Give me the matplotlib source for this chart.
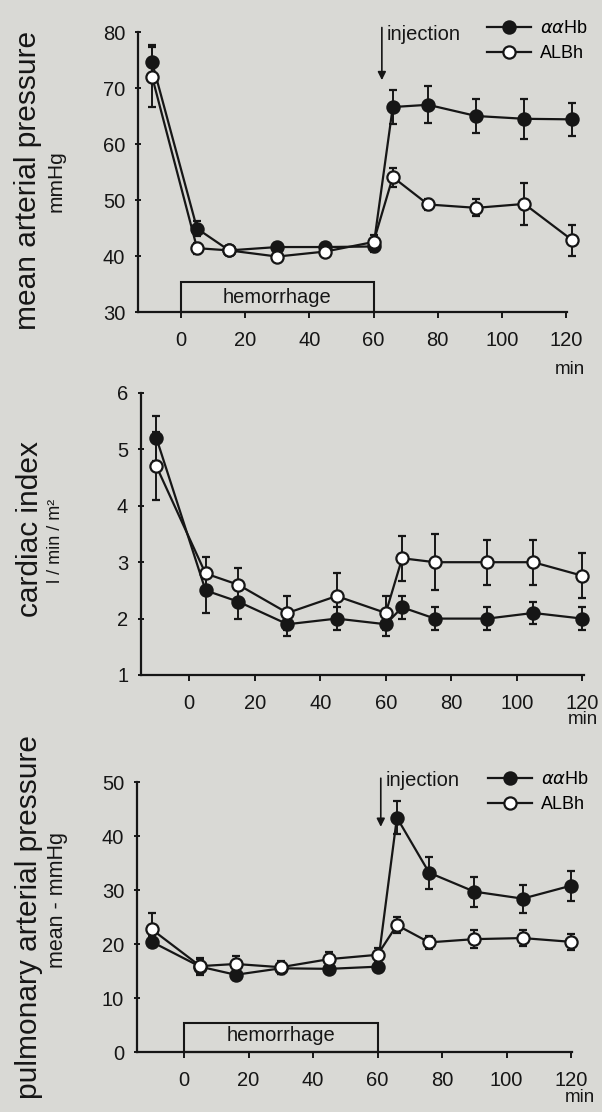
import matplotlib
matplotlib.use("Agg")
import matplotlib.pyplot as plt
from matplotlib.patches import Rectangle
from matplotlib.lines import Line2D

plt.rcParams['font.family'] = ['Liberation Sans', 'DejaVu Sans']

# --- data ---
# mean arterial pressure (mmHg)
t_map = [-9, 5, 15, 30, 45, 60, 66, 77, 92, 107, 122]
map_hb = [74.6, 44.9, 41.0, 41.6, 41.6, 41.7, 66.6, 67.0, 65.0, 64.5, 64.4]
map_hb_err = [3.0, 1.3, 0.6, 0.8, 0.7, 0.9, 3.0, 3.3, 3.0, 3.6, 3.0]
map_alb = [72.0, 41.4, 41.0, 39.9, 40.8, 42.5, 54.1, 49.2, 48.6, 49.3, 42.8]
map_alb_err = [5.4, 1.0, 0.6, 0.8, 0.8, 1.2, 1.7, 1.0, 1.5, 3.8, 2.8]

# cardiac index (l/min/m2)
t_ci = [-10, 5, 15, 30, 45, 60, 65, 75, 91, 105, 120]
ci_hb = [5.2, 2.5, 2.3, 1.9, 2.0, 1.9, 2.2, 2.0, 2.0, 2.1, 2.0]
ci_hb_err = [0.4, 0.4, 0.3, 0.2, 0.2, 0.2, 0.2, 0.2, 0.2, 0.2, 0.2]
ci_alb = [4.7, 2.8, 2.6, 2.1, 2.4, 2.1, 3.07, 3.0, 3.0, 3.0, 2.76]
ci_alb_err = [0.6, 0.3, 0.3, 0.3, 0.4, 0.3, 0.4, 0.5, 0.4, 0.4, 0.4]

# pulmonary arterial pressure (mmHg)
t_pap = [-10, 5, 16, 30, 45, 60, 66, 76, 90, 105, 120]
pap_hb = [20.4, 15.8, 14.3, 15.5, 15.4, 15.8, 43.4, 33.2, 29.7, 28.4, 30.8]
pap_hb_err = [1.0, 1.5, 1.0, 1.0, 0.7, 0.8, 3.0, 3.0, 2.8, 2.6, 2.8]
pap_alb = [22.7, 15.9, 16.3, 15.7, 17.2, 18.0, 23.5, 20.3, 20.9, 21.1, 20.4]
pap_alb_err = [3.0, 1.5, 1.5, 1.2, 1.3, 1.2, 1.5, 1.2, 1.7, 1.5, 1.5]

ticks_x = [0, 20, 40, 60, 80, 100, 120]
ink = '#161616'
bg = '#d9d9d5'

fig = plt.figure(figsize=(6.02, 11.12), dpi=100, facecolor=bg)


def make_axes(rect, xlim, ylim, yticks):
    ax = fig.add_axes(rect)
    ax.set_facecolor('none')
    ax.set_xlim(*xlim)
    ax.set_ylim(*ylim)
    ax.set_xticks(ticks_x)
    ax.set_yticks(yticks)
    for s in ['top', 'right']:
        ax.spines[s].set_visible(False)
    for s in ['left', 'bottom']:
        ax.spines[s].set_linewidth(1.6)
        ax.spines[s].set_color(ink)
    ax.tick_params(axis='x', direction='out', length=4.5, width=1.4,
                   pad=9, labelsize=14.5, colors=ink)
    ax.tick_params(axis='y', direction='inout', length=4.5, width=1.4,
                   pad=7, labelsize=14.5, colors=ink)
    return ax


def series(ax, t, y, e, filled):
    ax.errorbar(t, y, yerr=e, fmt='-o', color=ink, lw=1.6,
                mfc=ink if filled else 'white', mec=ink, ms=8.8, mew=1.6,
                elinewidth=1.4, capsize=3, capthick=1.4, clip_on=False,
                zorder=3 if filled else 4)


def legend(ax, x0, y0):
    h = [Line2D([], [], color=ink, lw=1.6, marker='o', mfc=ink, mec=ink, ms=8.8, mew=1.6),
         Line2D([], [], color=ink, lw=1.6, marker='o', mfc='white', mec=ink, ms=8.8, mew=1.6)]
    ax.legend(h, [r'$\alpha\alpha$Hb', 'ALBh'], loc='upper left',
              bbox_to_anchor=(x0 / 602, 1 - y0 / 1112),
              bbox_transform=fig.transFigure, frameon=False, fontsize=13,
              handlelength=2.4, handletextpad=0.5, labelspacing=0.45,
              borderpad=0.4)


def injection(ax, x, y0, y1, tx, ty):
    ax.annotate('', xy=(x, y1), xytext=(x, y0), annotation_clip=False,
                arrowprops=dict(arrowstyle='-|>', color=ink, lw=1.2,
                                mutation_scale=12, shrinkA=0, shrinkB=0))
    ax.text(tx, ty, 'injection', ha='left', va='center', fontsize=14.5,
            color=ink, clip_on=False)


def hemorrhage(ax, y0, h, ty):
    ax.add_patch(Rectangle((0, y0), 60, h, fill=False, ec=ink, lw=1.5,
                           clip_on=False, zorder=2))
    ax.text(30, ty, 'hemorrhage', ha='center', va='center', fontsize=14.5,
            color=ink)


# panel 1: mean arterial pressure
ax1 = make_axes([138 / 602, 1 - 312 / 1112, 429 / 602, 280 / 1112],
                (-13.4, 120.3), (30, 80), [30, 40, 50, 60, 70, 80])
series(ax1, t_map, map_hb, map_hb_err, True)
series(ax1, t_map, map_alb, map_alb_err, False)
hemorrhage(ax1, 30, 5.3, 32.6)
injection(ax1, 62.6, 80.8, 71.4, 64.2, 79.6)
legend(ax1, 471, 4)

# panel 2: cardiac index
ax2 = make_axes([141 / 602, 1 - 675 / 1112, 443 / 602, 282 / 1112],
                (-14.7, 120.5), (1, 6), [1, 2, 3, 4, 5, 6])
series(ax2, t_ci, ci_hb, ci_hb_err, True)
series(ax2, t_ci, ci_alb, ci_alb_err, False)

# panel 3: pulmonary arterial pressure
ax3 = make_axes([137 / 602, 1 - 1052 / 1112, 435 / 602, 270 / 1112],
                (-14.6, 120.3), (0, 50), [0, 10, 20, 30, 40, 50])
series(ax3, t_pap, pap_hb, pap_hb_err, True)
series(ax3, t_pap, pap_alb, pap_alb_err, False)
hemorrhage(ax3, 0, 5.3, 3.0)
injection(ax3, 61, 50.7, 41.7, 62.4, 50.2)
legend(ax3, 472, 755)

# axis titles
def ftext(x, y, s, size, rot=90):
    fig.text(x / 602, 1 - y / 1112, s, rotation=rot, ha='center', va='center',
             fontsize=size, color=ink)

ftext(28, 180, 'mean arterial pressure', 21.5)
ftext(56, 181, 'mmHg', 15)
ftext(30, 529, 'cardiac index', 21.5)
ftext(55, 541, 'l / min / m²', 13)
ftext(29, 917, 'pulmonary arterial pressure', 21.5)
ftext(58, 900, 'mean - mmHg', 15.5)
ftext(570, 370, 'min', 13.5, rot=0)
ftext(583, 720, 'min', 13.5, rot=0)
ftext(580, 1097, 'min', 13.5, rot=0)

fig.savefig('out.png', dpi=100, facecolor=bg)
